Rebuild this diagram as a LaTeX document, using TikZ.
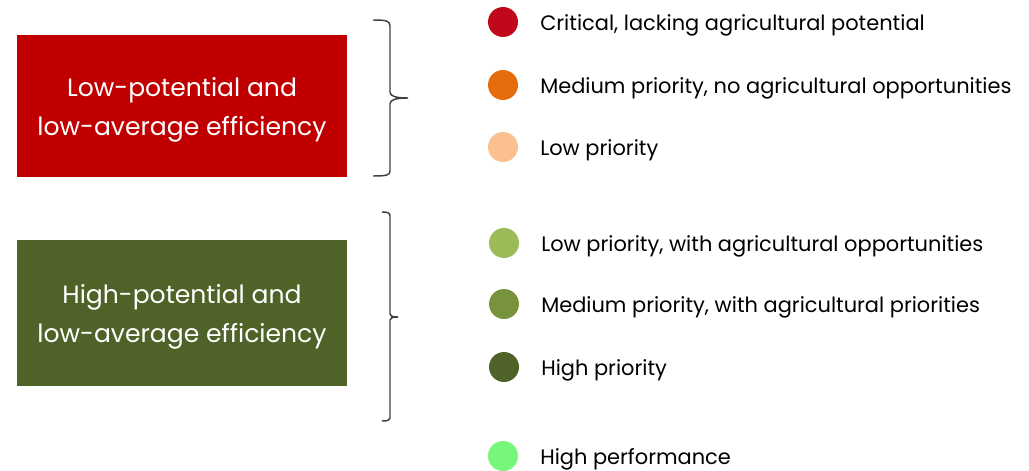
\documentclass[tikz,border=0pt]{standalone}
\usepackage{fontspec}
\setmainfont{Poppins}
\usepackage{xcolor}
\usepackage{tikz}

\definecolor{critred}{HTML}{C0081A}
\definecolor{boxred}{HTML}{C00000}
\definecolor{medorange}{HTML}{E46C0A}
\definecolor{lowpeach}{HTML}{FAC090}
\definecolor{lowgreen}{HTML}{9BBB59}
\definecolor{medgreen}{HTML}{77933C}
\definecolor{highgreen}{HTML}{4F6228}
\definecolor{perfgreen}{HTML}{77F77A}

\tikzset{
  groupbox/.style={minimum width=247.5pt,minimum height=#1,inner sep=0pt},
  grouptext/.style={align=center,text=white,inner sep=0pt,font=\fontsize{18.8}{29.3}\selectfont},
  dot/.style={circle,fill=#1,minimum size=22.5pt,inner sep=0pt},
  item/.style={anchor=west,inner sep=0pt,yshift=-2.2pt,font=\fontsize{15.7}{19}\selectfont},
  bracket/.style={draw=black!75,line width=1.1pt}
}

\begin{document}
\begin{tikzpicture}[x=0.75pt,y=0.75pt]
    \useasboundingbox (0,0) rectangle (1029,-471);
    % the two groups
    \node[groupbox=106.5pt,fill=boxred] (lowbox) at (182,-106) {};
    \node[groupbox=109.5pt,fill=highgreen] (highbox) at (182,-313) {};
    \node[grouptext] (lowtext) at ([yshift=-3pt]lowbox.center) {Low-potential and\\low-average efficiency};
    \node[grouptext] (hightext) at ([yshift=-3pt]highbox.center) {High-potential and\\low-average efficiency};
    % braces
    \coordinate (lowtip) at (408,-98);
    \coordinate (hightip) at (398,-317);
    \draw[bracket] (373,-20) .. controls (387,-20) and (390,-21) .. (390,-26) -- (390,-92)
      .. controls (390,-96) and (395,-98) .. (lowtip)
      .. controls (395,-98) and (390,-100) .. (390,-104) -- (390,-171)
      .. controls (390,-175) and (387,-176) .. (373,-176);
    \draw[bracket] (382,-212) .. controls (388,-212) and (390,-213) .. (390,-216) -- (390,-314)
      .. controls (390,-316) and (392,-317) .. (hightip)
      .. controls (392,-317) and (390,-318) .. (390,-320) -- (390,-418)
      .. controls (390,-420) and (388,-421) .. (382,-421);
    % legend
    \node[dot=critred] (d1) at (503,-22) {};
    \node[dot=medorange] (d2) at (503,-85) {};
    \node[dot=lowpeach] (d3) at (503,-147) {};
    \node[dot=lowgreen] (d4) at (504,-243) {};
    \node[dot=medgreen] (d5) at (504,-304) {};
    \node[dot=highgreen] (d6) at (504,-367) {};
    \node[dot=perfgreen] (d7) at (503,-456) {};
    \node[item] (t1) at (540,-22) {Critical, lacking agricultural potential};
    \node[item] (t2) at (540,-85) {Medium priority, no agricultural opportunities};
    \node[item] (t3) at (540,-147) {Low priority};
    \node[item] (t4) at (541,-243) {Low priority, with agricultural opportunities};
    \node[item] (t5) at (541,-304) {Medium priority, with agricultural priorities};
    \node[item] (t6) at (541,-367) {High priority};
    \node[item] (t7) at (540,-456) {High performance};
  \end{tikzpicture}
\end{document}
